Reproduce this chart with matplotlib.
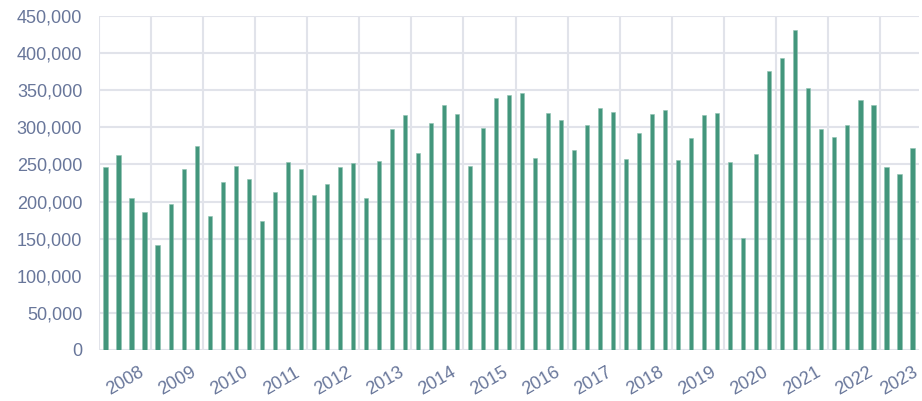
import matplotlib

matplotlib.use("Agg")
import matplotlib.pyplot as plt
from matplotlib.ticker import FuncFormatter, FixedLocator

plt.rcParams["font.family"] = ["Liberation Sans", "DejaVu Sans"]

# quarterly values, 2008 Q1 .. 2023 Q3
years = list(range(2008, 2024))
values = [
    246000, 263000, 205000, 186000,
    141500, 197000, 244000, 275000,
    180000, 226500, 247500, 230500,
    173500, 213500, 253500, 243500,
    209000, 223500, 246500, 252500,
    205000, 255000, 298000, 316500,
    265000, 306000, 330500, 318000,
    248000, 299500, 339000, 343000,
    346500, 258500, 319500, 310000,
    270000, 302500, 326500, 321000,
    258000, 292000, 318000, 324000,
    256000, 285500, 316000, 319500,
    253000, 151000, 264500, 376000,
    393000, 431500, 353500, 298000,
    287500, 303000, 337500, 329500,
    246000, 236500, 272500,
]
y_ticks = list(range(0, 450001, 50000))

bar_color = "#43967c"
grid_color = "#e1e3ea"
text_color = "#68769a"

x = [2008 + (i + 0.5) / 4 for i in range(len(values))]
x_end = 2008 + len(values) / 4

fig = plt.figure(figsize=(9.22, 4.01), dpi=100)
ax = fig.add_axes([99 / 922, 1 - 350 / 401, 820 / 922, 334 / 401])

ax.bar(x, values, width=0.08, color=bar_color, edgecolor="#8fc2b1", linewidth=0.4, zorder=3)

ax.set_xlim(2008, x_end)
ax.set_ylim(0, 450000)

# vertical grid at year boundaries, labels centred on each year's visible span
ax.xaxis.set_major_locator(FixedLocator(years))
ax.xaxis.set_major_formatter(FuncFormatter(lambda v, p: ""))
label_pos = [(y + min(y + 1, x_end)) / 2 for y in years]
ax.set_xticks(label_pos, [str(y) for y in years], minor=True)

ax.set_yticks(y_ticks)
ax.yaxis.set_major_formatter(FuncFormatter(lambda v, p: f"{int(v):,}"))

ax.grid(True, which="major", color=grid_color, linewidth=1.5)
ax.set_axisbelow(True)
for s in ax.spines.values():
    s.set_visible(False)

ax.tick_params(axis="both", which="both", length=0)
ax.tick_params(axis="y", labelsize=13, labelcolor=text_color, pad=12)
ax.tick_params(axis="x", which="minor", labelsize=13, labelcolor=text_color, pad=10, labelrotation=30)

fig.savefig("out.png", dpi=100)
